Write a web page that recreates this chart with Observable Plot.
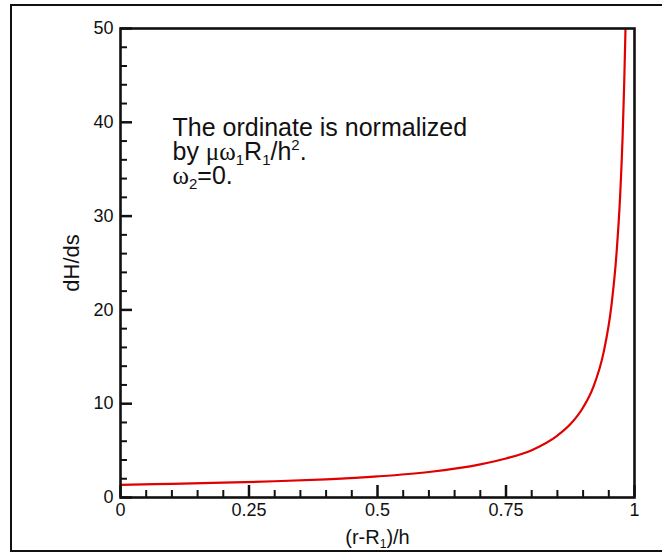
<!DOCTYPE html>
<html><head><meta charset="utf-8">
<script src="https://cdn.jsdelivr.net/npm/d3@7"></script>
<script src="https://cdn.jsdelivr.net/npm/@observablehq/plot@0.6"></script>
<style>
html,body{margin:0;padding:0;background:#fff;}
#wrap{position:relative;width:662px;height:552px;overflow:hidden;background:#fff;}
#border{position:absolute;left:10px;top:4px;width:700px;height:544px;border:2px solid #111;}
#chart{position:absolute;left:0;top:0;}
</style></head><body>
<div id="wrap"><div id="border"></div><div id="chart"></div></div>
<script>
// Curve values
const xValues = [0, 0.1, 0.2, 0.3, 0.4, 0.5, 0.6, 0.7, 0.75, 0.8, 0.85, 0.875, 0.9, 0.92, 0.94, 0.955, 0.965, 0.972, 0.977, 0.98, 0.9825];
const yValues = [1.35, 1.46, 1.58, 1.73, 1.94, 2.25, 2.72, 3.53, 4.16, 5.05, 6.6, 7.8, 9.6, 11.8, 15.5, 20.4, 26.0, 32.1, 38.7, 44.2, 50];

// Axes
const xMajorTicks = [0, 0.25, 0.5, 0.75, 1];
const xMinorTicks = [0.05, 0.1, 0.15, 0.2, 0.3, 0.35, 0.4, 0.45, 0.55, 0.6, 0.65, 0.7, 0.8, 0.85, 0.9, 0.95];
const yMajorTicks = [0, 10, 20, 30, 40, 50];
const yMinorTicks = [2, 4, 6, 8, 12, 14, 16, 18, 22, 24, 26, 28, 32, 34, 36, 38, 42, 44, 46, 48];
const xLabel = "(r-R_1)/h";
const yLabel = "dH/ds";
const noteLines = ["The ordinate is normalized", "by μω_1R_1/h^2.", "ω_2=0."];

const data = xValues.map((x, i) => ({x, y: yValues[i]}));
const ink = "#111";

const noteMarks = noteLines.map((line, i) =>
  Plot.text([line], {text: d => d, frameAnchor: "top-left", dx: 52, dy: 90 + i * 24, lineAnchor: "top", textAnchor: "start", fontSize: 25, fill: ink, className: "rich"})
);

const plot = Plot.plot({
  width: 662, height: 552,
  marginLeft: 120, marginRight: 28, marginTop: 28, marginBottom: 55,
  style: {fontFamily: "'Liberation Sans', Arial, sans-serif", fontSize: "18px", color: ink, background: "transparent", overflow: "visible"},
  x: {domain: [0, 1]},
  y: {domain: [0, 50]},
  marks: [
    Plot.line(data, {x: "x", y: "y", stroke: "#e00000", strokeWidth: 2.2, curve: "monotone-x", clip: true}),
    Plot.axisX({ticks: xMinorTicks, tickSize: -7, text: null, label: null, strokeWidth: 2}),
    Plot.axisX({ticks: xMajorTicks, tickSize: -12, tickPadding: 18, tickFormat: d => String(d), label: null, strokeWidth: 2.5, fontSize: 18}),
    Plot.axisY({ticks: yMinorTicks, tickSize: -7, text: null, label: null, strokeWidth: 2}),
    Plot.axisY({ticks: yMajorTicks, tickSize: -12, tickPadding: 19, tickFormat: d => String(d), label: null, strokeWidth: 2.5, fontSize: 18}),
    Plot.frame({stroke: ink, strokeWidth: 2.6}),
    Plot.text([xLabel], {text: d => d, frameAnchor: "bottom", dy: 32, lineAnchor: "top", textAnchor: "middle", fontSize: 20, fill: ink, className: "rich"}),
    Plot.text([yLabel], {text: d => d, frameAnchor: "left", dx: -57, rotate: -90, lineAnchor: "top", textAnchor: "middle", fontSize: 22, fill: ink}),
    ...noteMarks
  ]
});
document.getElementById("chart").appendChild(plot);

// Rich text: _c subscript, ^c superscript, Greek letters in serif
function richify(el, str) {
  if (!/[_^μω]/.test(str)) return;
  const fs = parseFloat(getComputedStyle(el).fontSize) || 20;
  while (el.firstChild) el.removeChild(el.firstChild);
  const ns = "http://www.w3.org/2000/svg";
  let i = 0, buf = "", shift = 0;
  const add = (txt, attrs) => {
    const t = document.createElementNS(ns, "tspan");
    t.textContent = txt;
    let dy = 0;
    if (attrs && attrs.shift) dy += attrs.shift;
    if (shift) { dy -= shift; shift = 0; }
    if (attrs && attrs.shift) shift = attrs.shift;
    if (dy) t.setAttribute("dy", dy.toFixed(2));
    if (attrs && attrs.small) t.setAttribute("font-size", (fs * 0.6).toFixed(2));
    if (attrs && attrs.serif) t.setAttribute("font-family", "'Liberation Serif', 'Times New Roman', serif");
    el.appendChild(t);
  };
  const flush = () => { if (buf) { add(buf); buf = ""; } };
  while (i < str.length) {
    const c = str[i];
    if ((c === "_" || c === "^") && i + 1 < str.length) {
      flush();
      add(str[i + 1], {small: true, shift: c === "_" ? fs * 0.2 : -fs * 0.4});
      i += 2;
    } else if (/[μω]/.test(c)) {
      flush();
      add(c, {serif: true});
      i += 1;
    } else {
      buf += c; i += 1;
    }
  }
  flush();
  if (shift) add("\u200B");
}
d3.select(plot).selectAll("g.rich text").each(function() {
  richify(this, this.textContent);
});
</script>
</body></html>
